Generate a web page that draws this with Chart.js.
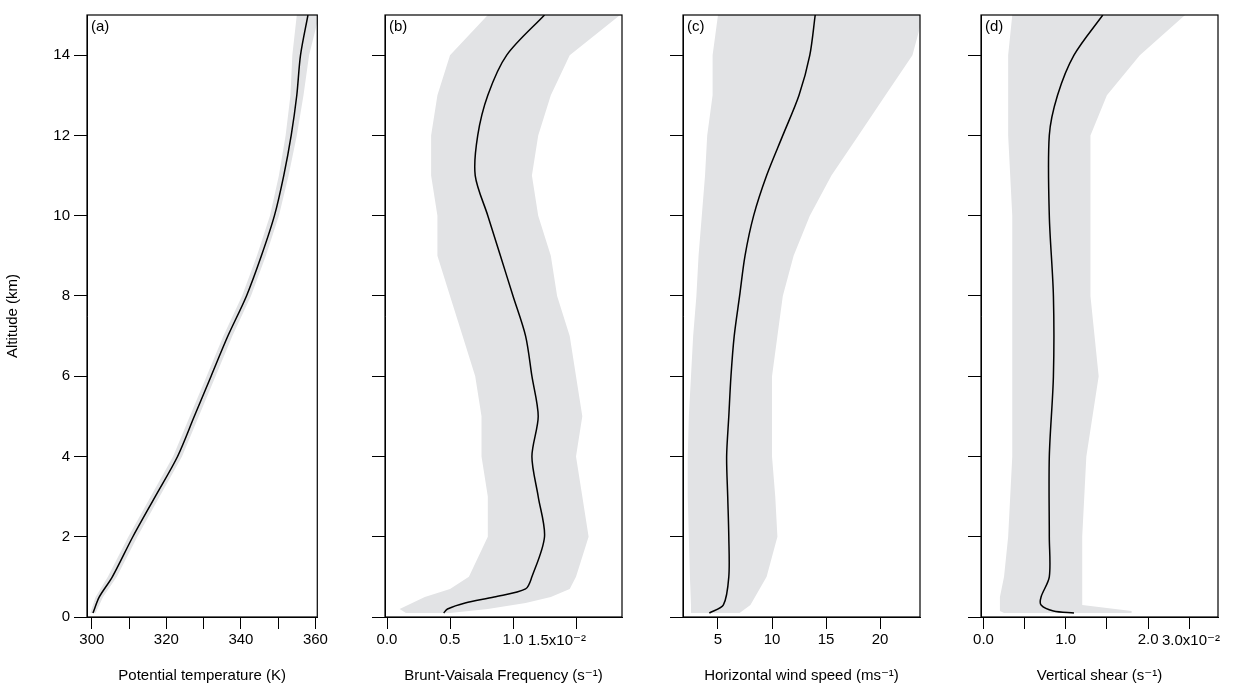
<!DOCTYPE html>
<html>
<head>
<meta charset="utf-8">
<script src="https://cdn.jsdelivr.net/npm/chart.js@4"></script>
<style>
  body { margin: 0; background: #fff; }
  #wrap { position: relative; width: 1249px; height: 689px; }
  .panel { position: absolute; top: 0; height: 689px; }
</style>
</head>
<body>
<div id="wrap">
  <div class="panel" style="left:0;width:330px"><canvas id="pa"></canvas></div>
  <div class="panel" style="left:330px;width:300px"><canvas id="pb"></canvas></div>
  <div class="panel" style="left:628px;width:300px"><canvas id="pc"></canvas></div>
  <div class="panel" style="left:926px;width:300px"><canvas id="pd"></canvas></div>
</div>
<script>
// altitudes (km)
const altA = [0.1, 0.5, 1, 2, 3, 4, 5, 6, 7, 8, 9, 10, 11, 12, 13, 14, 15];
const thetaMean = [300.3, 302, 305.5, 311, 317, 323, 327.5, 332, 336.5, 341.5, 345.5, 349, 351.5, 353.5, 355, 356, 358];
const thetaLow  = [299.6, 301, 304.3, 309.8, 315.8, 321.8, 326.3, 330.8, 335.3, 340.3, 344.3, 347.8, 350.2, 352, 353.3, 353.8, 355];
const thetaHigh = [301, 303, 306.7, 312.2, 318.2, 324.2, 328.7, 333.2, 337.7, 342.7, 346.7, 350.2, 352.8, 355, 356.8, 358.3, 361];

const altB = [0.1, 0.2, 0.35, 0.5, 0.7, 1, 2, 3, 4, 5, 6, 7, 8, 9, 10, 11, 12, 13, 14, 15];
const bvMean = [0.45, 0.48, 0.62, 0.85, 1.1, 1.15, 1.25, 1.2, 1.15, 1.2, 1.15, 1.1, 1.0, 0.9, 0.8, 0.7, 0.72, 0.8, 0.95, 1.25];
const bvLow  = [0.15, 0.1, 0.2, 0.3, 0.5, 0.65, 0.8, 0.8, 0.75, 0.75, 0.7, 0.6, 0.5, 0.4, 0.4, 0.35, 0.35, 0.4, 0.5, 0.8];
const bvHigh = [0.5, 0.8, 1.1, 1.3, 1.45, 1.5, 1.6, 1.55, 1.5, 1.55, 1.5, 1.45, 1.35, 1.3, 1.2, 1.15, 1.2, 1.3, 1.45, 1.85];

const altC = [0.1, 0.3, 1, 2, 3, 4, 5, 6, 7, 8, 9, 10, 11, 12, 13, 14, 15];
const wsMean = [4.2, 5.5, 6, 6, 5.9, 5.8, 6, 6.2, 6.5, 7, 7.5, 8.3, 9.5, 11, 12.5, 13.5, 14];
const wsLow  = [2.5, 2.5, 2.4, 2.3, 2.2, 2.2, 2.3, 2.5, 2.7, 3, 3.2, 3.5, 3.8, 4, 4.5, 4.5, 5];
const wsHigh = [7, 8, 9.5, 10.5, 10.3, 10, 10, 10, 10.5, 11, 12, 13.5, 15.5, 18, 20.5, 23, 24];

const altD = [0.1, 0.15, 0.3, 0.5, 1, 2, 4, 6, 8, 10, 12, 13, 14, 15];
const shMean = [1.1, 0.85, 0.7, 0.7, 0.8, 0.8, 0.8, 0.85, 0.85, 0.8, 0.8, 0.9, 1.1, 1.45];
const shLow  = [0.25, 0.2, 0.2, 0.2, 0.25, 0.3, 0.35, 0.35, 0.35, 0.35, 0.3, 0.3, 0.3, 0.35];
const shHigh = [1.8, 1.8, 1.2, 1.2, 1.2, 1.2, 1.25, 1.4, 1.3, 1.3, 1.3, 1.5, 1.9, 2.45];

const FONT = "'Liberation Sans', 'DejaVu Sans', sans-serif";
const BAND = '#e2e3e5';

function pts(xs, ys) {
    return xs.map((x, i) => ({ x, y: ys[i] }));
}

// shaded spread between low and high profiles, drawn through the chart scales
const bandPlugin = {
    id: 'band',
    beforeDatasetsDraw(chart, args, opts) {
        const { ctx, chartArea: a, scales: { x, y } } = chart;
        ctx.save();
        ctx.beginPath();
        ctx.rect(a.left, a.top, a.right - a.left, a.bottom - a.top);
        ctx.clip();
        ctx.beginPath();
        opts.alt.forEach((h, i) => {
            const px = x.getPixelForValue(opts.low[i]), py = y.getPixelForValue(h);
            i ? ctx.lineTo(px, py) : ctx.moveTo(px, py);
        });
        for (let i = opts.alt.length - 1; i >= 0; i--) {
            ctx.lineTo(x.getPixelForValue(opts.high[i]), y.getPixelForValue(opts.alt[i]));
        }
        ctx.closePath();
        ctx.fillStyle = BAND;
        ctx.fill();
        ctx.restore();
    }
};

const framePlugin = {
    id: 'frame',
    afterDraw(chart, args, opts) {
        const { ctx, chartArea: a } = chart;
        ctx.save();
        ctx.strokeStyle = '#000';
        ctx.lineWidth = 1.2;
        ctx.strokeRect(a.left, a.top, a.right - a.left, a.bottom - a.top);
        ctx.font = `15px ${FONT}`;
        ctx.fillStyle = '#000';
        ctx.textBaseline = 'top';
        ctx.fillText(opts.label, a.left + 4, a.top + 4);
        if (opts.extra) {
            ctx.textBaseline = 'alphabetic';
            ctx.fillText(opts.extra.text, opts.extra.x, 645);
        }
        ctx.restore();
    }
};

function createPanel(canvasId, cfg) {
    const ctx = document.getElementById(canvasId);
    return new Chart(ctx, {
        type: 'scatter',
        data: {
            datasets: [
                { data: pts(cfg.mean, cfg.alt), showLine: true, borderWidth: 1.5, pointRadius: 0, borderColor: '#000', tension: 0.3, fill: false }
            ]
        },
        options: {
            responsive: false,
            animation: false,
            layout: { padding: { top: 15, right: 8 } },
            plugins: {
                legend: { display: false },
                tooltip: { enabled: false },
                band: { alt: cfg.alt, low: cfg.low, high: cfg.high },
                frame: { label: cfg.label, extra: cfg.extra }
            },
            scales: {
                x: {
                    type: 'linear',
                    min: cfg.xmin,
                    max: cfg.xmax,
                    afterFit: s => { s.height = 72; },
                    afterBuildTicks: s => { s.ticks = cfg.xticks.map(v => ({ value: v })); },
                    grid: { drawOnChartArea: false, drawTicks: true, tickLength: 12, color: '#000' },
                    border: { color: '#000' },
                    ticks: {
                        color: '#000', font: { family: FONT, size: 15 }, maxRotation: 0, padding: 2,
                        callback: cfg.xlabel
                    },
                    title: { display: true, text: cfg.title, color: '#000', font: { family: FONT, size: 15 }, padding: { top: 4 } }
                },
                y: {
                    type: 'linear',
                    min: 0,
                    max: 15,
                    afterFit: s => { s.width = cfg.yw; },
                    afterBuildTicks: s => { s.ticks = [0, 2, 4, 6, 8, 10, 12, 14].map(v => ({ value: v })); },
                    grid: { drawOnChartArea: false, drawTicks: true, tickLength: 13, color: '#000' },
                    border: { color: '#000' },
                    ticks: { display: cfg.ylabels, color: '#000', font: { family: FONT, size: 15 }, padding: 4 },
                    title: { display: cfg.ylabels, text: 'Altitude (km)', color: '#000', font: { family: FONT, size: 15 } }
                }
            }
        },
        plugins: [bandPlugin, framePlugin]
    });
}

function sizeCanvas(id, w) {
    const c = document.getElementById(id);
    c.width = w; c.height = 689;
    c.style.width = w + 'px'; c.style.height = '689px';
}
sizeCanvas('pa', 330); sizeCanvas('pb', 300); sizeCanvas('pc', 300); sizeCanvas('pd', 300);

createPanel('pa', {
    label: '(a)', alt: altA, mean: thetaMean, low: thetaLow, high: thetaHigh,
    xmin: 298.7, xmax: 360.5, xticks: [300, 310, 320, 330, 340, 350, 360],
    xlabel: v => (v % 20 === 0 ? String(v) : ''),
    title: 'Potential temperature (K)', yw: 87, ylabels: true
});
createPanel('pb', {
    label: '(b)', alt: altB, mean: bvMean, low: bvLow, high: bvHigh,
    xmin: -0.016, xmax: 1.865, xticks: [0, 0.5, 1.0, 1.5],
    xlabel: v => (v === 1.5 ? '' : v.toFixed(1)),
    extra: { text: '1.5x10⁻²', x: 198 },
    title: 'Brunt-Vaisala Frequency (s⁻¹)', yw: 55, ylabels: false
});
createPanel('pc', {
    label: '(c)', alt: altC, mean: wsMean, low: wsLow, high: wsHigh,
    xmin: 1.76, xmax: 23.7, xticks: [5, 10, 15, 20],
    xlabel: v => String(v),
    title: 'Horizontal wind speed (ms⁻¹)', yw: 55, ylabels: false
});
createPanel('pd', {
    label: '(d)', alt: altD, mean: shMean, low: shLow, high: shHigh,
    xmin: -0.03, xmax: 2.85, xticks: [0, 0.5, 1.0, 1.5, 2.0, 2.5],
    xlabel: v => (Math.abs(v - Math.round(v)) < 1e-9 ? v.toFixed(1) : ''),
    extra: { text: '3.0x10⁻²', x: 236 },
    title: 'Vertical shear (s⁻¹)', yw: 55, ylabels: false
});
</script>
</body>
</html>
